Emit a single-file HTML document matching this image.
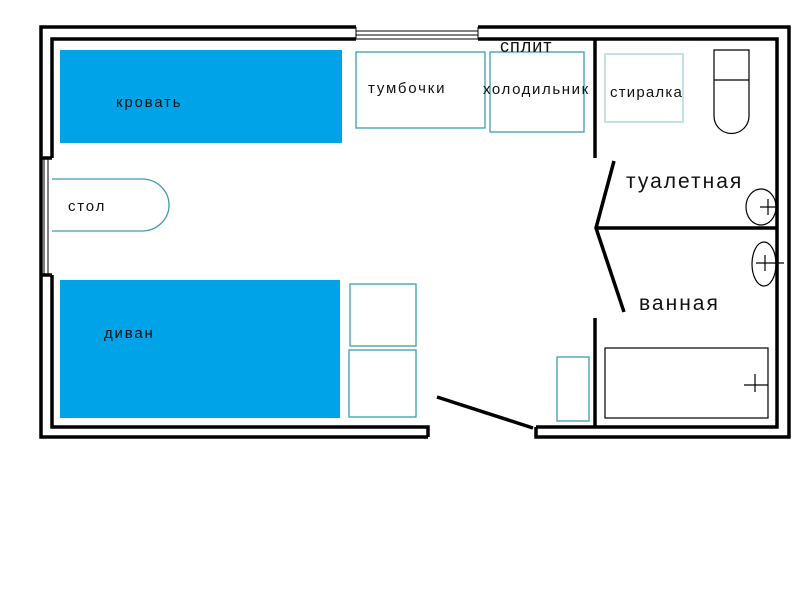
<!DOCTYPE html>
<html><head><meta charset="utf-8"><style>
body{margin:0;background:#fff}
svg text{font-family:"Liberation Sans","DejaVu Sans",sans-serif;fill:#111}
</style></head><body>
<svg width="800" height="598" xmlns="http://www.w3.org/2000/svg">
<g stroke="#000" stroke-width="3.5" fill="none">
<path d="M356,27 H41 V437 H428"/>
<path d="M478,27 H789 V437 H536 V427"/>
<path d="M356,39 H52 V158 M52,275 V427 H428 V437"/>
<path d="M478,39 H777 V427 H536"/>
<path d="M41,158 H52 M41,275 H52"/>
<path d="M595,39 V158 M595,318 V427"/>
<path d="M596,228 H777"/>
<path d="M614,161 L596,228 L624,312"/>
<path d="M437,397 L533,428"/>
</g>
<g stroke="#000" stroke-width="1" fill="none">
<path d="M356,27 V39 H478 V27 M356,31 H478 M356,35 H478"/>
<path d="M44,158 V275 M48,158 V275"/>
</g>
<rect x="60" y="50" width="282" height="93" fill="#00a2e8"/>
<rect x="60" y="280" width="280" height="138" fill="#00a2e8"/>
<g fill="none" stroke="#3d9ab5" stroke-width="1.3">
<path d="M52,179 H142 A27,26 0 0 1 142,231 H52"/>
<rect x="356" y="52" width="129" height="76"/>
<rect x="490" y="52" width="94" height="80"/>
<rect x="350" y="284" width="66" height="62"/>
<rect x="349" y="350" width="67" height="67"/>
<rect x="557" y="357" width="32" height="64"/>
</g>
<rect x="605" y="54" width="78" height="68" fill="none" stroke="#a8d0dc" stroke-width="1.3"/>
<g fill="none" stroke="#000" stroke-width="1.2">
<path d="M714,50 H749 V80 H714 Z M714,80 V116 M749,80 V116 M714,116 A17,17 0 0 0 749,116"/>
<ellipse cx="761" cy="207" rx="15" ry="18"/>
<path d="M760,207 H776 M768,199 V215"/>
<ellipse cx="764" cy="264" rx="12" ry="22"/>
<path d="M756,263 H784 M765,255 V271"/>
<rect x="605" y="348" width="163" height="70"/>
<path d="M744,385 H768 M755,374 V392"/>
</g>
<text x="500" y="52" font-size="18" letter-spacing="1">сплит</text>
<text x="116" y="107" font-size="15" letter-spacing="1.8">кровать</text>
<text x="68" y="211" font-size="15" letter-spacing="1.8">стол</text>
<text x="104" y="338" font-size="15" letter-spacing="1.8">диван</text>
<text x="368" y="93" font-size="15" letter-spacing="1.8">тумбочки</text>
<text x="483" y="94" font-size="15" letter-spacing="1.6">холодильник</text>
<text x="610" y="97" font-size="15" letter-spacing="1.2">стиралка</text>
<text x="626" y="188" font-size="21" letter-spacing="2">туалетная</text>
<text x="639" y="310" font-size="21" letter-spacing="2">ванная</text>
</svg>
</body></html>
